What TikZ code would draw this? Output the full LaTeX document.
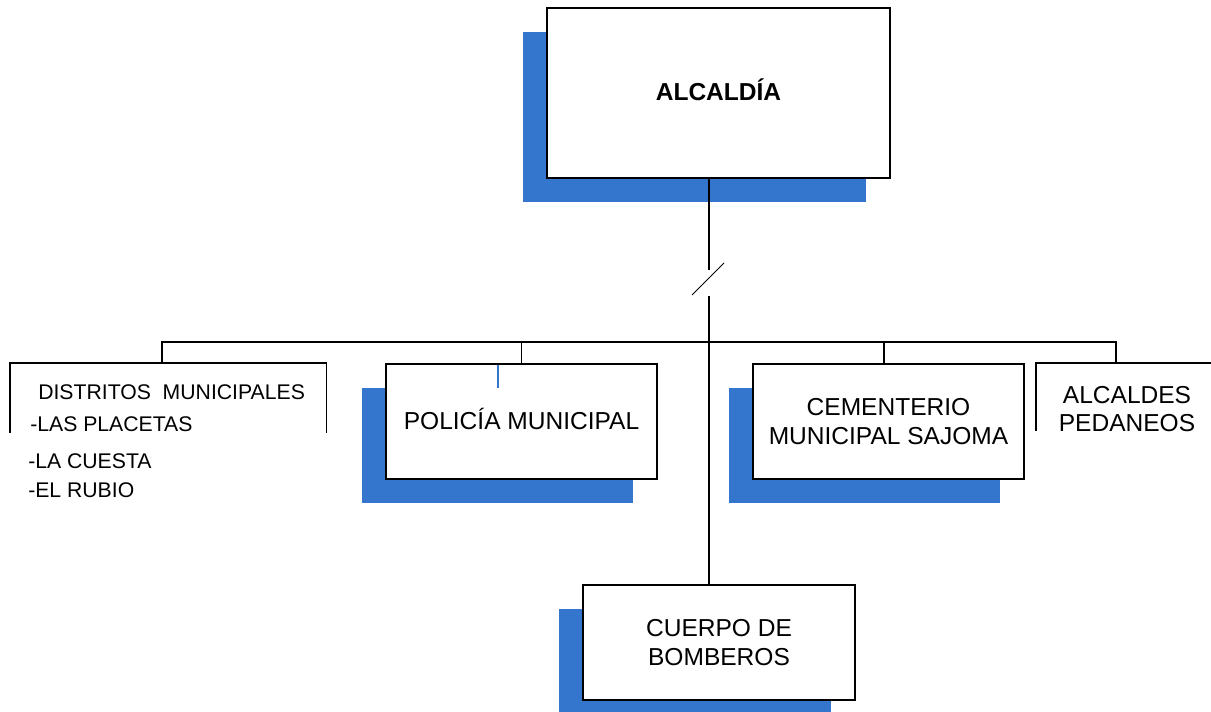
\documentclass[tikz,border=0pt]{standalone}
\usepackage{fontspec}
\setmainfont{Liberation Sans}
\usetikzlibrary{shadows,positioning}
\definecolor{shadeblue}{RGB}{52,117,205}
\tikzset{
  unit/.style={draw=black,fill=white,line width=1.5pt,rectangle,inner sep=0pt,
    minimum width=203.25pt,minimum height=86.25pt,align=center,
    font=\fontsize{18.4}{21.5}\selectfont,
    general shadow={fill=shadeblue,shadow xshift=-18pt,shadow yshift=-18pt}},
  lbl/.style={font=\fontsize{18.4}{21}\selectfont,align=center,inner sep=0pt},
  small/.style={font=\fontsize{15.9}{19}\selectfont,inner sep=0pt,anchor=base west},
  conn/.style={line width=1.1pt}
}
\begin{document}
\begin{tikzpicture}[x=0.75pt,y=-0.75pt]
\useasboundingbox (0,0) rectangle (1211,712);
\node[unit,minimum width=257.25pt,minimum height=127.5pt,text depth=4.5pt,font=\fontsize{18.4}{21.5}\selectfont\bfseries] (alc) at (718.5,93) {ALCALD\'IA};
\node[unit,text depth=4.5pt] (pol) at (521.5,421.5) {POLIC\'IA MUNICIPAL};
\node[unit] (cem) at (888.5,421.5) {CEMENTERIO\\MUNICIPAL SAJOMA};
\node[unit,minimum width=204pt] (bomb) at (719,642.5) {CUERPO DE\\BOMBEROS};
% open frames
\node[inner sep=0pt,minimum width=237pt,minimum height=51.75pt,anchor=north west] (dist) at (10,363) {};
\draw[conn] (dist.south west) |- (dist.north east) -- (dist.south east);
\node[small] (d1) at (38,400) {DISTRITOS\ \ MUNICIPALES};
\node[small] (d2) at (30,432) {-LAS PLACETAS};
\node[small] (d3) at (28,469) {-LA CUESTA};
\node[small] (d4) at (28,498) {-EL RUBIO};
\node[inner sep=0pt,minimum width=131.25pt,minimum height=50.25pt,anchor=north west] (ped) at (1036,363) {};
\draw[conn] (ped.south west) |- (ped.north east);
\node[lbl] (pedtxt) at (1127,408.7) {ALCALDES\\PEDANEOS};
% trunk with break
\coordinate (trunk) at (709,0);
\coordinate (brk1) at (709,270);
\coordinate (brk2) at (709,296);
\coordinate (sl1) at (692,295);
\coordinate (sl2) at (724,263);
\draw[conn] (alc.south -| trunk) -- (brk1);
\draw[line width=0.7pt] (sl1) -- (sl2);
\draw[conn] (brk2) -- (bomb.north -| trunk);
% bus
\coordinate (busl) at (162,342);
\coordinate (busr) at (1116,342);
\coordinate (cemdrop) at (884,342);
\draw[conn] (busl |- dist.north) -- (busl) -- (busr) -- (busr |- ped.north);
\draw[conn] (pol.north |- busl) -- (pol.north);
\draw[conn] (cemdrop) -- (cemdrop |- cem.north);
\draw[shadeblue,line width=0.8pt] (498,365.5) -- (498,388);
\end{tikzpicture}
\end{document}
